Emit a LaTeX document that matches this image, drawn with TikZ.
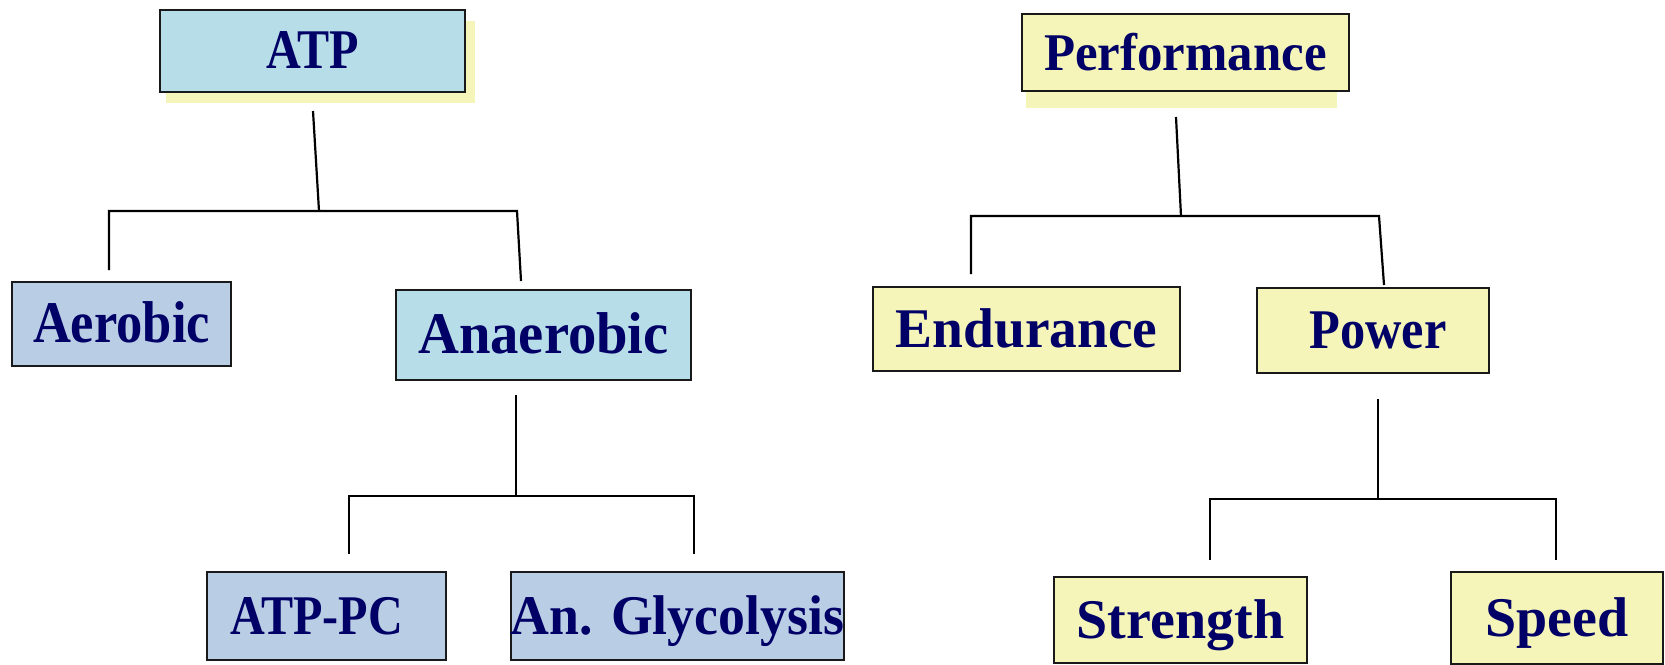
\documentclass[tikz,border=0pt]{standalone}
\usepackage{fontspec}
\usepackage{graphicx}
\setmainfont{Liberation Serif}
\usetikzlibrary{calc}
\definecolor{aqua}{HTML}{B7DEE8}
\definecolor{pale}{HTML}{B9CDE5}
\definecolor{yel}{HTML}{F5F5B9}
\definecolor{navy}{HTML}{000066}
\newcommand{\sx}[3]{\fontsize{#2}{#2}\selectfont\bfseries\scalebox{#1}[1]{#3}}
\tikzset{
  boxnode/.style={draw=black!90, line width=1pt, inner sep=0pt, text=navy, text depth=0pt},
  conn/.style={line width=1.1pt, black}
}
\begin{document}
\begin{tikzpicture}[x=0.5pt,y=-0.5pt]
\useasboundingbox (0,0) rectangle (1665,664);
% shadows
\fill[yel] (166,21) rectangle (475,103);
\fill[yel] (1026,40) rectangle (1337,108);
% left tree boxes
\node[boxnode, fill=aqua, minimum width=152.5pt, minimum height=41pt, text height=17.5pt] (atp) at (312.5,51) {\sx{0.86}{28}{ATP}};
\node[boxnode, fill=pale, minimum width=109.5pt, minimum height=42pt, text height=18.5pt] (aer) at (121.5,324) {\sx{0.89}{29.5}{Aerobic}};
\node[boxnode, fill=aqua, minimum width=147.5pt, minimum height=45pt, text height=18.5pt, yshift=-2pt] (ana) at (543.5,331) {\sx{0.96}{29.5}{Anaerobic}};
\node[boxnode, fill=pale, minimum width=119.5pt, minimum height=44pt, text height=18.5pt] (atppc) at (326.5,616) {\hspace*{-10pt}\sx{0.86}{28}{ATP-PC}};
\node[boxnode, fill=pale, minimum width=166.5pt, minimum height=44pt, text height=18.5pt] (gly) at (677.5,616) {\sx{0.96}{28}{An. Glycolysis}};
% right tree boxes
\node[boxnode, fill=yel, minimum width=163.5pt, minimum height=38.5pt, text height=17.5pt] (perf) at (1185.5,52.5) {\sx{0.96}{26.5}{Performance}};
\node[boxnode, fill=yel, minimum width=153.5pt, minimum height=42pt, text height=18.5pt] (end) at (1026.5,329) {\sx{0.99}{28}{Endurance}};
\node[boxnode, fill=yel, minimum width=116pt, minimum height=42.5pt, text height=18pt] (pow) at (1373,330) {\hspace*{5pt}\sx{0.9}{28}{Power}};
\node[boxnode, fill=yel, minimum width=126.5pt, minimum height=43pt, text height=18pt] (str) at (1180.5,620) {\sx{1.0}{28}{Strength}};
\node[boxnode, fill=yel, minimum width=106pt, minimum height=46pt, text height=18pt] (spd) at (1557,618) {\sx{1.0}{28}{Speed}};
% connector coordinates
\coordinate (a0) at (313,111); \coordinate (a1) at (319,211);
\coordinate (aBL) at (109,211); \coordinate (aBR) at (517,211);
\coordinate (aL) at (109,270); \coordinate (aR) at (521,281);
\coordinate (b0) at (516,395); \coordinate (b1) at (516,496);
\coordinate (bBL) at (349,496); \coordinate (bBR) at (694,496);
\coordinate (bL) at (349,554); \coordinate (bR) at (694,554);
\coordinate (c0) at (1176,117); \coordinate (c1) at (1181,216);
\coordinate (cBL) at (971,216); \coordinate (cBR) at (1379,216);
\coordinate (cL) at (971,274); \coordinate (cR) at (1384,285);
\coordinate (d0) at (1378,399); \coordinate (d1) at (1378,499);
\coordinate (dBL) at (1210,499); \coordinate (dBR) at (1556,499);
\coordinate (dL) at (1210,560); \coordinate (dR) at (1556,560);
% connectors
\draw[conn] (a0) -- (a1);
\draw[conn] (aL) -- (aBL) -- (aBR) -- (aR);
\draw[conn] (b0) -- (b1);
\draw[conn] (bL) -- (bBL) -- (bBR) -- (bR);
\draw[conn] (c0) -- (c1);
\draw[conn] (cL) -- (cBL) -- (cBR) -- (cR);
\draw[conn] (d0) -- (d1);
\draw[conn] (dL) -- (dBL) -- (dBR) -- (dR);
\end{tikzpicture}
\end{document}
